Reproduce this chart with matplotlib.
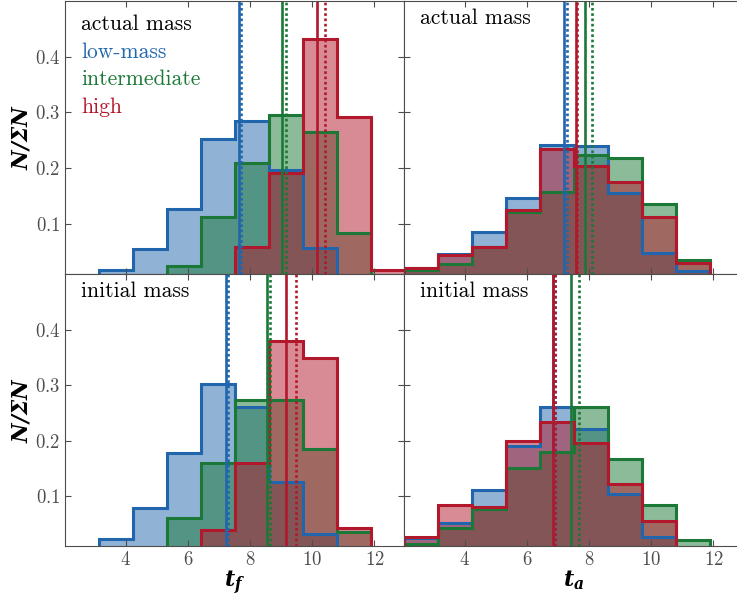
import numpy as np
import matplotlib.pyplot as plt
from matplotlib.colors import to_rgb

plt.rcParams.update({
    'font.family': 'serif',
    'font.serif': ['cmr10'],
    'mathtext.fontset': 'custom',
    'mathtext.rm': 'cmr10',
    'mathtext.bf': 'DejaVu Serif:style=italic:weight=bold',
    'axes.formatter.use_mathtext': True,
    'axes.unicode_minus': False,
})

# shared bins of the histograms
bin_edges = np.linspace(2.06, 12.98, 11)

group_names = ['low-mass', 'intermediate', 'high']
group_colors = ['#2166ac', '#1b7837', '#b2182b']

# t_f, actual mass (low, intermediate, high)
tf_actual_low = [0.0, 0.018, 0.055, 0.127, 0.252, 0.285, 0.196, 0.057, 0.0, 0.0]
tf_actual_mid = [0.0, 0.0, 0.0, 0.024, 0.112, 0.209, 0.296, 0.264, 0.084, 0.0]
tf_actual_high = [0.0, 0.0, 0.0, 0.0, 0.0, 0.058, 0.191, 0.431, 0.291, 0.017]
tf_actual_median = [7.64, 9.03, 10.16]
tf_actual_mean = [7.70, 9.14, 10.40]

# t_a, actual mass
ta_actual_low = [0.021, 0.046, 0.085, 0.147, 0.242, 0.239, 0.155, 0.048, 0.015, 0.0]
ta_actual_mid = [0.0165, 0.028, 0.058, 0.122, 0.158, 0.224, 0.218, 0.136, 0.036, 0.0]
ta_actual_high = [0.020, 0.045, 0.058, 0.125, 0.234, 0.203, 0.175, 0.113, 0.030, 0.0]
ta_actual_median = [7.18, 7.88, 7.59]
ta_actual_mean = [7.29, 8.10, 7.62]

# t_f, initial mass
tf_initial_low = [0.0, 0.022, 0.078, 0.178, 0.301, 0.261, 0.126, 0.031, 0.0, 0.0]
tf_initial_mid = [0.0, 0.0, 0.0, 0.061, 0.159, 0.273, 0.273, 0.185, 0.036, 0.0]
tf_initial_high = [0.0, 0.0, 0.0, 0.0, 0.0385, 0.160, 0.380, 0.349, 0.043, 0.0]
tf_initial_median = [7.22, 8.54, 9.14]
tf_initial_mean = [7.29, 8.63, 9.47]

# t_a, initial mass
ta_initial_low = [0.025, 0.051, 0.111, 0.191, 0.261, 0.220, 0.103, 0.027, 0.0, 0.0]
ta_initial_mid = [0.0134, 0.0415, 0.076, 0.150, 0.179, 0.261, 0.167, 0.083, 0.0206, 0.0]
ta_initial_high = [0.0266, 0.0845, 0.080, 0.199, 0.233, 0.196, 0.121, 0.055, 0.0, 0.0]
ta_initial_median = [6.85, 7.42, 6.83]
ta_initial_mean = [6.92, 7.67, 6.90]


def draw_panel(ax, hists, medians, means, label, text_y):
    # fills first, outlines on top of all fills
    for vals, c in zip(hists, group_colors):
        ax.stairs(vals, bin_edges, fill=True, baseline=0,
                  facecolor=(*to_rgb(c), 0.5), edgecolor='none')
    for vals, c in zip(hists, group_colors):
        ax.stairs(vals, bin_edges, baseline=0, color=c, linewidth=2.2)
    for med, mn, c in zip(medians, means, group_colors):
        ax.axvline(med, color=c, lw=1.9)
        ax.axvline(mn, color=c, lw=1.9, ls=(0, (1, 1)))
    ax.text(0.047, text_y, label, transform=ax.transAxes,
            fontsize=15.5, va='baseline', ha='left')
    ax.set_xlim(2.05, 12.95)
    ax.set_ylim(0.01, 0.5)
    ax.set_xticks([4, 6, 8, 10, 12])
    ax.set_yticks([0.1, 0.2, 0.3, 0.4])
    ax.tick_params(direction='in', top=True, right=True, length=4,
                   width=0.8, color='0.3', labelsize=13.5, labelcolor='0.3')
    for sp in ax.spines.values():
        sp.set_color('0.3')


fig = plt.figure(figsize=(7.37, 5.98), dpi=100)
ax_tl = fig.add_axes([0.0882, 0.5418, 0.46, 0.4565])
ax_tr = fig.add_axes([0.5482, 0.5418, 0.46, 0.4565])
ax_bl = fig.add_axes([0.0882, 0.087, 0.46, 0.4548])
ax_br = fig.add_axes([0.5482, 0.087, 0.46, 0.4548])

draw_panel(ax_tl, [tf_actual_low, tf_actual_mid, tf_actual_high],
           tf_actual_median, tf_actual_mean, 'actual mass', 0.895)
draw_panel(ax_tr, [ta_actual_low, ta_actual_mid, ta_actual_high],
           ta_actual_median, ta_actual_mean, 'actual mass', 0.915)
draw_panel(ax_bl, [tf_initial_low, tf_initial_mid, tf_initial_high],
           tf_initial_median, tf_initial_mean, 'initial mass', 0.915)
draw_panel(ax_br, [ta_initial_low, ta_initial_mid, ta_initial_high],
           ta_initial_median, ta_initial_mean, 'initial mass', 0.915)

# colour key in the first panel
for i, (name, c) in enumerate(zip(group_names, group_colors)):
    ax_tl.text(0.047, 0.793 - 0.1015 * i, name, color=c, transform=ax_tl.transAxes,
               fontsize=15.5, va='baseline', ha='left')

for ax in (ax_tl, ax_tr):
    ax.tick_params(labelbottom=False)
for ax in (ax_tr, ax_br):
    ax.tick_params(labelleft=False)

for ax in (ax_tl, ax_bl):
    ax.set_ylabel(r'$\mathbf{N/\Sigma N}$', fontsize=15.5, labelpad=2)
ax_bl.set_xlabel(r'$\mathbf{t_f}$', fontsize=16, labelpad=0)
ax_br.set_xlabel(r'$\mathbf{t_a}$', fontsize=16, labelpad=0)

fig.savefig('out.png', dpi=100)
